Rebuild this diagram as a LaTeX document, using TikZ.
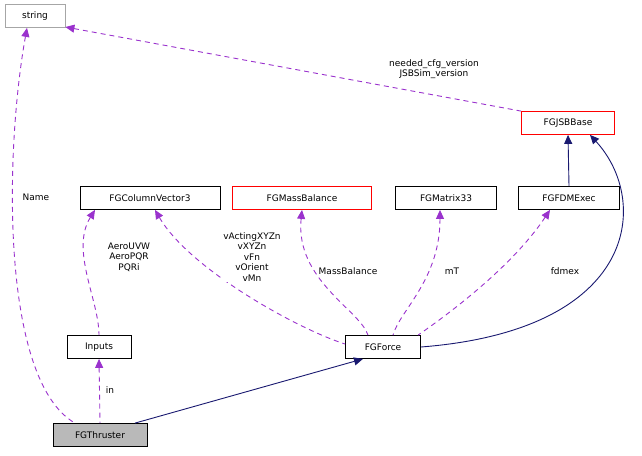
\documentclass[tikz,border=0pt]{standalone}
\usepackage{fontspec}
\setmainfont{DejaVu Sans}
\usetikzlibrary{arrows.meta}
\definecolor{navy}{HTML}{191970}
\definecolor{purp}{HTML}{9A32CD}
\tikzset{
  cls/.style={draw=black, fill=white, line width=0.8pt, minimum height=23pt, inner xsep=5pt, font=\fontsize{9}{10.5}\selectfont, anchor=center},
  redcls/.style={cls, draw=red},
  inherit/.style={draw=navy, line width=0.9pt, {Triangle[length=9pt,width=8pt,fill=navy]}-},
  use/.style={draw=purp, line width=0.9pt, dash pattern=on 5pt off 4pt, {Triangle[length=9pt,width=8pt,fill=purp]}-},
  lbl/.style={font=\fontsize{9}{10.5}\selectfont, align=center, inner sep=1pt}
}
\begin{document}
\begin{tikzpicture}[x=1pt,y=-1pt]
    \useasboundingbox (0,0) rectangle (642,455);

    % classes
    \node[cls, draw=gray!70, minimum width=60pt] (string) at (35,16) {string};
    \node[redcls, minimum width=93pt] (jsbbase) at (568,123) {FGJSBBase};
    \node[cls, minimum width=140pt] (colvec) at (150,198) {FGColumnVector3};
    \node[redcls, minimum width=139pt] (massbal) at (302,198) {FGMassBalance};
    \node[cls, minimum width=101pt] (matrix) at (446,198) {FGMatrix33};
    \node[cls, minimum width=101pt] (fdmexec) at (569,198) {FGFDMExec};
    \node[cls, minimum width=64pt] (inputs) at (99,347) {Inputs};
    \node[cls, minimum width=75pt] (force) at (383,347) {FGForce};
    \node[cls, fill=gray!55, minimum width=94pt] (thruster) at (100,435) {FGThruster};

    % inheritance
    \draw[inherit] (jsbbase.south) -- (fdmexec.north);
    \draw[inherit] ([xshift=22pt]jsbbase.south) .. controls (650,200) and (640,330) .. (force.east);
    \draw[inherit] ([xshift=-20pt]force.south) -- ([xshift=35pt]thruster.north);

    % usage
    \draw[use] (string.east |- 0,27) -- (jsbbase.north west);
    \node[lbl] at (434,69) {needed\_cfg\_version\\JSBSim\_version};
    \draw[use] ([xshift=-8pt]string.south) .. controls (5,150) and (0,380) .. ([xshift=-25pt]thruster.north);
    \node[lbl, fill=white] at (36,197) {Name};
    \draw[use] ([xshift=-55pt]colvec.south) .. controls (70,250) and (99,300) .. (inputs.north);
    \node[lbl] at (129,257) {AeroUVW\\AeroPQR\\PQRi};
    \draw[use] ([xshift=5pt]colvec.south) .. controls (190,270) and (300,330) .. ([yshift=3pt]force.west);
    \node[lbl, fill=white] at (252,257) {vActingXYZn\\vXYZn\\vFn\\vOrient\\vMn};
    \draw[use] (massbal.south) .. controls (295,280) and (360,310) .. ([xshift=-15pt]force.north);
    \node[lbl] at (348,271) {MassBalance};
    \draw[use] ([xshift=-6pt]matrix.south) .. controls (440,280) and (400,310) .. ([xshift=10pt]force.north);
    \node[lbl] at (452,271) {mT};
    \draw[use] ([xshift=-19pt]fdmexec.south) .. controls (510,270) and (440,320) .. ([xshift=35pt]force.north);
    \node[lbl] at (565,271) {fdmex};
    \draw[use] (inputs.south) -- (thruster.north);
    \node[lbl] at (110,390) {in};
\end{tikzpicture}
\end{document}
